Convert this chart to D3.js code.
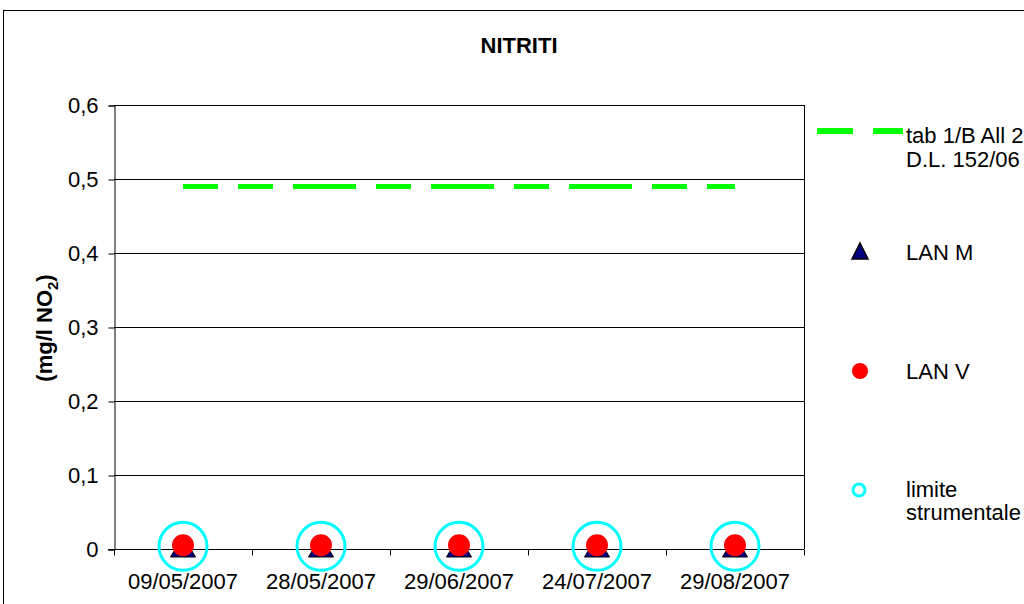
<!DOCTYPE html>
<html>
<head>
<meta charset="utf-8">
<script src="https://cdn.jsdelivr.net/npm/d3@7"></script>
<style>
  html, body { margin: 0; padding: 0; background: #fff; }
  svg { display: block; font-family: "Liberation Sans", Arial, sans-serif; }
</style>
</head>
<body>
<svg id="chart" width="1024" height="604"></svg>
<script>
// Sampling dates
const dates = ["09/05/2007", "28/05/2007", "29/06/2007", "24/07/2007", "29/08/2007"];
// Legal limit (tab 1/B All 2 D.L. 152/06)
const limitValues = [0.49, 0.49, 0.49, 0.49, 0.49];
// Measured values
const lanM = [0, 0, 0, 0, 0];
const lanV = [0.005, 0.005, 0.005, 0.005, 0.005];
// Instrument detection limit
const limiteStrumentale = [0.005, 0.005, 0.005, 0.005, 0.005];
const yTicks = [0, 0.1, 0.2, 0.3, 0.4, 0.5, 0.6];
const yTickLabels = ["0", "0,1", "0,2", "0,3", "0,4", "0,5", "0,6"];

const FS = 22;
const svg = d3.select("#chart");
const plot = { left: 114, right: 804, top: 105, bottom: 549 };

const x = d3.scaleBand().domain(dates).range([plot.left, plot.right]);
const y = d3.scaleLinear().domain([0, 0.6]).range([plot.bottom, plot.top]);
const cx = d => x(d) + x.bandwidth() / 2;

// Outer chart frame
svg.append("rect")
  .attr("x", 3.5).attr("y", 10.5)
  .attr("width", 1040).attr("height", 620)
  .attr("fill", "#fff").attr("stroke", "#000").attr("stroke-width", 1);

// Title
svg.append("text")
  .attr("x", 519).attr("y", 53)
  .attr("text-anchor", "middle")
  .attr("font-size", FS).attr("font-weight", "bold")
  .text("NITRITI");

// Horizontal gridlines
svg.append("g").selectAll("line")
  .data(yTicks.filter(v => v > 0))
  .join("line")
  .attr("x1", plot.left).attr("x2", plot.right)
  .attr("y1", d => Math.round(y(d)) + 0.5).attr("y2", d => Math.round(y(d)) + 0.5)
  .attr("stroke", "#000").attr("stroke-width", 1);

// Plot area right border
svg.append("line")
  .attr("x1", plot.right + 0.5).attr("x2", plot.right + 0.5)
  .attr("y1", plot.top).attr("y2", plot.bottom)
  .attr("stroke", "#000");

// Y axis
const yAxis = d3.axisLeft(y)
  .tickValues(yTicks)
  .tickFormat((d, i) => yTickLabels[i])
  .tickSize(6).tickPadding(10);
const gy = svg.append("g")
  .attr("transform", `translate(${plot.left + 0.5},0.5)`)
  .call(yAxis)
  .attr("font-size", FS)
  .attr("font-family", "Liberation Sans, Arial, sans-serif");
gy.selectAll("text").attr("fill", "#000");
gy.selectAll("line, path").attr("stroke", "#000");

// X axis with ticks at category boundaries
const gx = svg.append("g")
  .attr("transform", `translate(0,${plot.bottom + 0.5})`);
gx.append("line")
  .attr("x1", plot.left - 6).attr("x2", plot.right)
  .attr("stroke", "#000");
const boundaries = dates.map(d => x(d)).concat([x(dates[dates.length - 1]) + x.bandwidth()]);
gx.selectAll("line.tick")
  .data(boundaries)
  .join("line")
  .attr("class", "tick")
  .attr("x1", d => Math.round(d) + 0.5).attr("x2", d => Math.round(d) + 0.5)
  .attr("y1", 0).attr("y2", 6)
  .attr("stroke", "#000");
gx.selectAll("text")
  .data(dates)
  .join("text")
  .attr("x", d => cx(d)).attr("y", 39.5)
  .attr("text-anchor", "middle")
  .attr("font-size", FS)
  .text(d => d);

// Y axis title
svg.append("text")
  .attr("transform", `translate(52,328) rotate(-90)`)
  .attr("text-anchor", "middle")
  .attr("font-size", FS).attr("font-weight", "bold")
  .html('(mg/l NO<tspan dy="6" font-size="15">2</tspan><tspan dy="-6">)</tspan>');

// Limit line: dashed, pattern restarting on each segment
const green = "#00ff00";
const limitPts = dates.map((d, i) => [cx(d), y(limitValues[i])]);
for (let i = 0; i < limitPts.length - 1; i++) {
  svg.append("path")
    .attr("d", d3.line()([limitPts[i], limitPts[i + 1]]))
    .attr("stroke", green).attr("stroke-width", 5)
    .attr("stroke-dasharray", "35,20").attr("fill", "none");
}

// LAN M triangles
const triPath = "M0,-13L12.5,8L-12.5,8Z";
svg.append("g").selectAll("path")
  .data(dates)
  .join("path")
  .attr("d", triPath)
  .attr("transform", (d, i) => `translate(${cx(d)},${y(lanM[i])})`)
  .attr("fill", "#000080").attr("stroke", "#000").attr("stroke-width", 1);

// LAN V red dots
svg.append("g").selectAll("circle")
  .data(dates)
  .join("circle")
  .attr("cx", d => cx(d))
  .attr("cy", (d, i) => y(lanV[i]))
  .attr("r", 11)
  .attr("fill", "#ff0000");

// Instrument limit: cyan rings
svg.append("g").selectAll("circle")
  .data(dates)
  .join("circle")
  .attr("cx", d => cx(d))
  .attr("cy", (d, i) => y(limiteStrumentale[i]) + 1)
  .attr("r", 24)
  .attr("fill", "none")
  .attr("stroke", "#00ffff").attr("stroke-width", 3);

// Legend
const lg = svg.append("g").attr("font-size", FS);
lg.append("line")
  .attr("x1", 817).attr("x2", 903).attr("y1", 131).attr("y2", 131)
  .attr("stroke", green).attr("stroke-width", 6)
  .attr("stroke-dasharray", "36,20");
lg.append("text").attr("x", 906).attr("y", 143).text("tab 1/B All 2");
lg.append("text").attr("x", 906).attr("y", 167).text("D.L. 152/06");

lg.append("path")
  .attr("d", "M0,-8L8,8L-8,8Z")
  .attr("transform", "translate(860,251)")
  .attr("fill", "#000080").attr("stroke", "#000").attr("stroke-width", 1.5);
lg.append("text").attr("x", 906).attr("y", 260).text("LAN M");

lg.append("circle").attr("cx", 860).attr("cy", 371).attr("r", 8).attr("fill", "#ff0000");
lg.append("text").attr("x", 906).attr("y", 379).text("LAN V");

lg.append("circle").attr("cx", 859).attr("cy", 490).attr("r", 6)
  .attr("fill", "none").attr("stroke", "#00ffff").attr("stroke-width", 3);
lg.append("text").attr("x", 906).attr("y", 497).text("limite");
lg.append("text").attr("x", 906).attr("y", 520).text("strumentale");
</script>
</body>
</html>
